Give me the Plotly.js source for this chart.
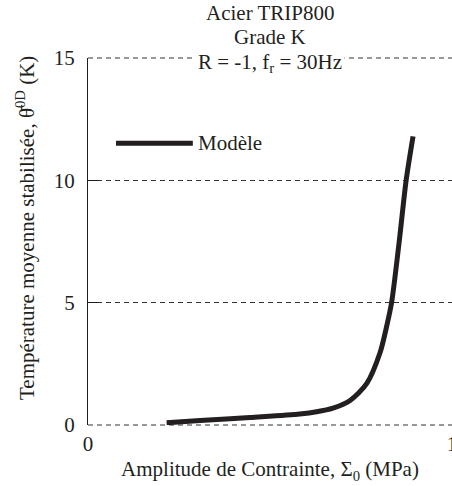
<!DOCTYPE html>
<html>
<head>
<meta charset="utf-8">
<script src="https://cdn.plot.ly/plotly-3.0.1.min.js"></script>
<style>html,body{margin:0;padding:0;background:#fff;}#chart{width:452px;height:486px;}</style>
</head>
<body>
<div id="chart"></div>
<script>
// Data
const amplitude = [0.216, 0.308, 0.445, 0.582, 0.628, 0.673, 0.720, 0.766, 0.802, 0.820, 0.834, 0.855, 0.874, 0.893];
const temperature = [0.09, 0.18, 0.31, 0.45, 0.54, 0.69, 1.0, 1.7, 2.94, 4.0, 5.0, 7.5, 10.0, 11.8];
const seriesName = "Modèle";
const yTicks = [0, 5, 10, 15];
const xTicks = [0, 1];
const titleLines = ["Acier TRIP800", "Grade K", "R = -1, f<sub>r</sub> = 30Hz"];
const xTitle = "Amplitude de Contrainte, Σ<sub>0</sub> (MPa)";
const yTitle = "Température moyenne stabilisée, θ̄<sup>0D</sup> (K)";

const FONT = "Liberation Serif, Times New Roman, serif";
const INK = "#231f20";
const FS = 21;

const trace = {
  x: amplitude, y: temperature, type: "scatter", mode: "lines",
  name: seriesName, showlegend: false,
  line: {color: INK, width: 5, shape: "spline", smoothing: 0.8}
};

// dashed lines at the plot's bottom and top edges (Plotly omits edge gridlines)
const edgeGrid = [0, 1].map(v => ({
  type: "line", xref: "paper", yref: "paper", x0: 0, x1: 1, y0: v, y1: v, layer: "below",
  line: {color: "#333", width: 1, dash: "5px,4px"}
}));

const layout = {
  width: 452, height: 486,
  margin: {l: 88, r: 0, t: 58, b: 61, pad: 0},
  paper_bgcolor: "#fff", plot_bgcolor: "#fff",
  font: {family: FONT, size: FS, color: INK},
  xaxis: {range: [0, 1], tickvals: xTicks, ticktext: xTicks.map(String), showgrid: false, zeroline: false,
          showline: false, ticks: "", ticklabelstandoff: 4, ticklabeloverflow: "allow",
          tickfont: {family: FONT, size: FS, color: INK},
          title: {text: xTitle, standoff: 6, font: {family: FONT, size: FS, color: INK}}},
  yaxis: {range: [0, 15], tickvals: yTicks, ticktext: yTicks.map(String), showgrid: true,
          gridcolor: "#333", griddash: "5px,4px", gridwidth: 1, zeroline: false,
          showline: true, linecolor: INK, linewidth: 1,
          ticks: "inside", ticklen: 11, tickcolor: INK, tickwidth: 1, ticklabelstandoff: 8,
          tickfont: {family: FONT, size: FS, color: INK}},
  shapes: edgeGrid.concat([
    {type: "line", xref: "paper", yref: "paper", x0: 0.077, x1: 0.288, y0: 0.768, y1: 0.768,
     line: {color: INK, width: 5}}
  ]),
  annotations: [
    {text: seriesName, xref: "paper", yref: "paper", x: 0.297, y: 0.768, xanchor: "left", yanchor: "middle",
     showarrow: false, font: {family: FONT, size: FS, color: INK}},
    {text: yTitle, xref: "paper", yref: "paper", x: -0.170, y: 0.537, xanchor: "center", yanchor: "middle",
     textangle: -90, showarrow: false, font: {family: FONT, size: FS, color: INK}},
    {text: titleLines[0], xref: "paper", yref: "paper", x: 0.5, y: 1.1226, xanchor: "center", yanchor: "middle",
     showarrow: false, font: {family: FONT, size: FS, color: INK}},
    {text: titleLines[1], xref: "paper", yref: "paper", x: 0.5, y: 1.0572, xanchor: "center", yanchor: "middle",
     showarrow: false, font: {family: FONT, size: FS, color: INK}},
    {text: titleLines[2], xref: "paper", yref: "paper", x: 0.5, y: 1.0, xanchor: "center",
     yanchor: "middle", yshift: -5, showarrow: false, bgcolor: "#fff", borderpad: 2,
     font: {family: FONT, size: FS, color: INK}}
  ]
};

Plotly.newPlot("chart", [trace], layout, {displayModeBar: false, staticPlot: true});
</script>
</body>
</html>
